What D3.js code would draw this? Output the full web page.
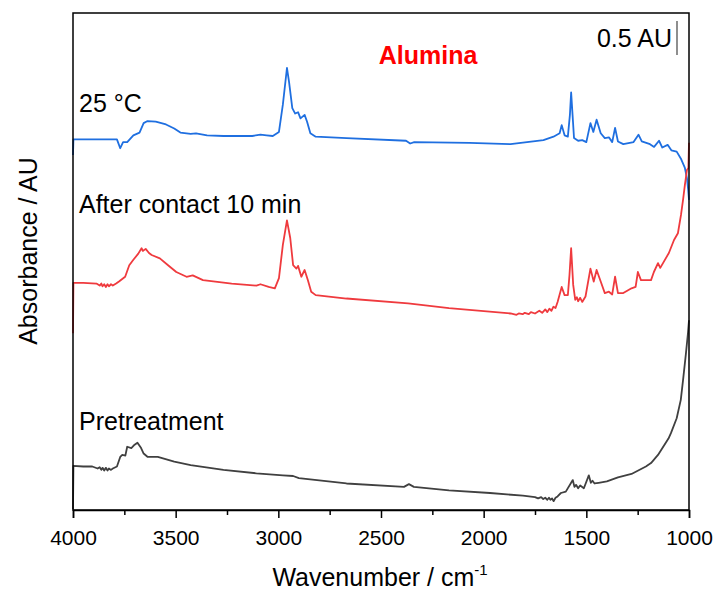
<!DOCTYPE html>
<html>
<head>
<meta charset="utf-8">
<script src="https://cdn.jsdelivr.net/npm/d3@7"></script>
<style>
  body { margin: 0; background: #fff; }
  text { font-family: "Liberation Sans", Arial, sans-serif; fill: #000; }
</style>
</head>
<body>
<div id="chart-area"></div>
<script>
// spectra, [wavenumber (cm-1), absorbance (AU, with stacking offset)]
let spec25C = [
  [4000, 5.22], [3998, 5.45], [3900, 5.45], [3800, 5.45], [3786, 5.45], [3770, 5.32], [3756, 5.41],
  [3736, 5.41], [3706, 5.51], [3676, 5.55], [3656, 5.69], [3637, 5.72], [3597, 5.71], [3547, 5.67],
  [3507, 5.61], [3477, 5.55], [3427, 5.53], [3401, 5.54], [3347, 5.51], [3267, 5.50], [3127, 5.50],
  [3087, 5.52], [3057, 5.51], [3027, 5.50], [2997, 5.56], [2978, 5.96], [2958, 6.50], [2948, 6.30],
  [2932, 5.91], [2918, 5.83], [2904, 5.85], [2892, 5.76], [2872, 5.81], [2860, 5.71], [2844, 5.54],
  [2818, 5.49], [2668, 5.47], [2378, 5.43], [2358, 5.39], [2338, 5.41], [2069, 5.40], [1869, 5.38],
  [1789, 5.41], [1709, 5.44], [1660, 5.49], [1630, 5.54], [1620, 5.66], [1606, 5.51], [1590, 5.49],
  [1580, 5.81], [1574, 6.14], [1560, 5.47], [1540, 5.43], [1520, 5.44], [1500, 5.41], [1480, 5.69],
  [1466, 5.56], [1450, 5.74], [1430, 5.54], [1410, 5.47], [1390, 5.48], [1374, 5.41], [1360, 5.62],
  [1346, 5.42], [1320, 5.38], [1270, 5.41], [1246, 5.52], [1230, 5.42], [1190, 5.38], [1170, 5.34],
  [1146, 5.43], [1130, 5.33], [1104, 5.37], [1086, 5.29], [1060, 5.27], [1040, 5.17], [1020, 5.03],
  [1010, 4.88], [1004, 4.71], [1000, 4.56]
];

let specContact = [
  [4000, 2.60], [3998, 3.34], [3950, 3.34], [3886, 3.33], [3870, 3.30], [3862, 3.33], [3856, 3.29],
  [3848, 3.32], [3840, 3.28], [3832, 3.32], [3825, 3.29], [3815, 3.32], [3806, 3.30], [3790, 3.33],
  [3776, 3.36], [3746, 3.43], [3726, 3.60], [3706, 3.68], [3682, 3.77], [3672, 3.82], [3666, 3.85],
  [3660, 3.81], [3646, 3.84], [3630, 3.78], [3617, 3.75], [3577, 3.70], [3537, 3.60], [3497, 3.50],
  [3447, 3.43], [3417, 3.45], [3367, 3.38], [3227, 3.33], [3107, 3.30], [3087, 3.32], [3047, 3.28],
  [3017, 3.26], [2997, 3.41], [2978, 3.90], [2958, 4.26], [2942, 4.00], [2928, 3.60], [2912, 3.55],
  [2904, 3.59], [2888, 3.43], [2872, 3.53], [2856, 3.38], [2840, 3.21], [2818, 3.16], [2668, 3.11],
  [2368, 3.04], [2169, 2.97], [1869, 2.89], [1840, 2.87], [1829, 2.89], [1810, 2.88], [1800, 2.90],
  [1780, 2.88], [1770, 2.91], [1750, 2.89], [1729, 2.93], [1715, 2.90], [1700, 2.95], [1690, 2.91],
  [1680, 2.96], [1670, 2.93], [1660, 2.99], [1650, 2.97], [1640, 3.06], [1620, 3.28], [1606, 3.16],
  [1590, 3.16], [1582, 3.46], [1574, 3.85], [1564, 3.31], [1554, 3.09], [1546, 3.13], [1540, 3.07],
  [1530, 3.12], [1520, 3.06], [1504, 3.14], [1480, 3.55], [1464, 3.36], [1450, 3.53], [1430, 3.36],
  [1410, 3.19], [1390, 3.21], [1374, 3.17], [1360, 3.43], [1346, 3.19], [1320, 3.19], [1280, 3.26],
  [1260, 3.28], [1249, 3.50], [1234, 3.38], [1185, 3.38], [1171, 3.50], [1151, 3.63], [1140, 3.56],
  [1098, 3.78], [1073, 3.97], [1054, 4.07], [1039, 4.34], [1029, 4.56], [1020, 4.78], [1010, 5.00],
  [1003, 5.03], [1000, 5.40]
];

let specPretreat = [
  [4000, 0.01], [3998, 0.65], [3950, 0.64], [3906, 0.64], [3880, 0.61], [3870, 0.63], [3862, 0.59],
  [3856, 0.62], [3848, 0.58], [3840, 0.62], [3832, 0.58], [3825, 0.61], [3815, 0.59], [3806, 0.61],
  [3786, 0.64], [3770, 0.78], [3760, 0.81], [3745, 0.80], [3736, 0.93], [3716, 0.91], [3700, 0.96],
  [3686, 0.99], [3670, 0.92], [3656, 0.83], [3636, 0.78], [3587, 0.78], [3507, 0.71], [3427, 0.66],
  [3267, 0.59], [3107, 0.54], [2978, 0.51], [2928, 0.50], [2900, 0.47], [2668, 0.39], [2388, 0.34],
  [2364, 0.38], [2340, 0.34], [2169, 0.29], [1969, 0.25], [1809, 0.21], [1750, 0.19], [1735, 0.17],
  [1720, 0.19], [1710, 0.16], [1700, 0.18], [1690, 0.15], [1682, 0.18], [1675, 0.15], [1667, 0.17],
  [1659, 0.13], [1650, 0.18], [1640, 0.20], [1624, 0.25], [1600, 0.27], [1566, 0.44], [1558, 0.34],
  [1550, 0.37], [1540, 0.32], [1530, 0.36], [1512, 0.32], [1488, 0.51], [1478, 0.40], [1470, 0.43],
  [1460, 0.39], [1440, 0.40], [1400, 0.42], [1346, 0.48], [1280, 0.53], [1210, 0.64], [1185, 0.69],
  [1151, 0.81], [1100, 1.05], [1088, 1.13], [1060, 1.35], [1040, 1.62], [1029, 1.91], [1015, 2.30],
  [1005, 2.60], [1000, 2.79]
];

let seriesNames = ["25 °C", "After contact 10 min", "Pretreatment"];
let seriesColors = ["#1f6fe0", "#ef3a3e", "#404040"];
let majorTicks = [4000, 3500, 3000, 2500, 2000, 1500, 1000];
let minorTicks = [3750, 3250, 2750, 2250, 1750, 1250];
let scaleBar = [6.69, 7.19]; // 0.5 AU

let margin = {left: 73, top: 13, right: 27, bottom: 81};
let width = 716 - margin.left - margin.right;
let height = 591 - margin.top - margin.bottom;

let svg = d3.select('#chart-area')
  .append('svg')
  .attr('width', 716)
  .attr('height', 591);

let g = svg.append('g')
  .attr('transform', 'translate(' + margin.left + ',' + margin.top + ')');

let x = d3.scaleLinear().domain([4000, 1000]).range([0, width]);
let y = d3.scaleLinear().domain([0, height / 68]).range([height, 0]);

let line = d3.line()
  .x(d => x(d[0]))
  .y(d => y(d[1]));

[spec25C, specContact, specPretreat].forEach(function(s, i) {
  g.append('path')
    .datum(s)
    .attr('fill', 'none')
    .attr('stroke', seriesColors[i])
    .attr('stroke-width', 1.8)
    .attr('stroke-linejoin', 'round')
    .attr('d', line);
});

// frame
g.append('rect')
  .attr('width', width)
  .attr('height', height)
  .attr('fill', 'none')
  .attr('stroke', '#000')
  .attr('stroke-width', 1.5);

// x axis
let xAxis = g.append('g')
  .attr('transform', 'translate(0,' + height + ')')
  .call(d3.axisBottom(x).tickValues(majorTicks).tickSize(8).tickPadding(12).tickFormat(d3.format('d')));
xAxis.select('.domain').attr('stroke-width', 1.5);
xAxis.selectAll('.tick line').attr('stroke-width', 1.5);
xAxis.selectAll('text').attr('font-size', '21px').attr('font-family', '"Liberation Sans", Arial, sans-serif');

let xMinor = g.append('g')
  .attr('transform', 'translate(0,' + height + ')')
  .call(d3.axisBottom(x).tickValues(minorTicks).tickSize(5).tickFormat(''));
xMinor.select('.domain').remove();
xMinor.selectAll('.tick line').attr('stroke-width', 1.5);

// axis titles
let xt = svg.append('text')
  .attr('x', 380)
  .attr('y', 586)
  .attr('text-anchor', 'middle')
  .attr('font-size', '25px');
xt.append('tspan').text('Wavenumber / cm');
xt.append('tspan').attr('font-size', '15px').attr('dy', -11).text('-1');

svg.append('text')
  .attr('transform', 'translate(37,251) rotate(-90)')
  .attr('text-anchor', 'middle')
  .attr('font-size', '25px')
  .text('Absorbance / AU');

// series labels
let labelY = [112, 213, 430];
seriesNames.forEach(function(n, i) {
  svg.append('text')
    .attr('x', 79)
    .attr('y', labelY[i])
    .attr('font-size', '25px')
    .text(n);
});

svg.append('text')
  .attr('x', 428)
  .attr('y', 64)
  .attr('text-anchor', 'middle')
  .attr('font-size', '25px')
  .attr('font-weight', 'bold')
  .style('fill', '#ff0000')
  .text('Alumina');

// scale bar
g.append('line')
  .attr('x1', 604).attr('x2', 604)
  .attr('y1', y(scaleBar[0])).attr('y2', y(scaleBar[1]))
  .attr('stroke', '#444')
  .attr('stroke-width', 1.2);

svg.append('text')
  .attr('x', 672)
  .attr('y', 47)
  .attr('text-anchor', 'end')
  .attr('font-size', '25px')
  .text('0.5 AU');
</script>
</body>
</html>
